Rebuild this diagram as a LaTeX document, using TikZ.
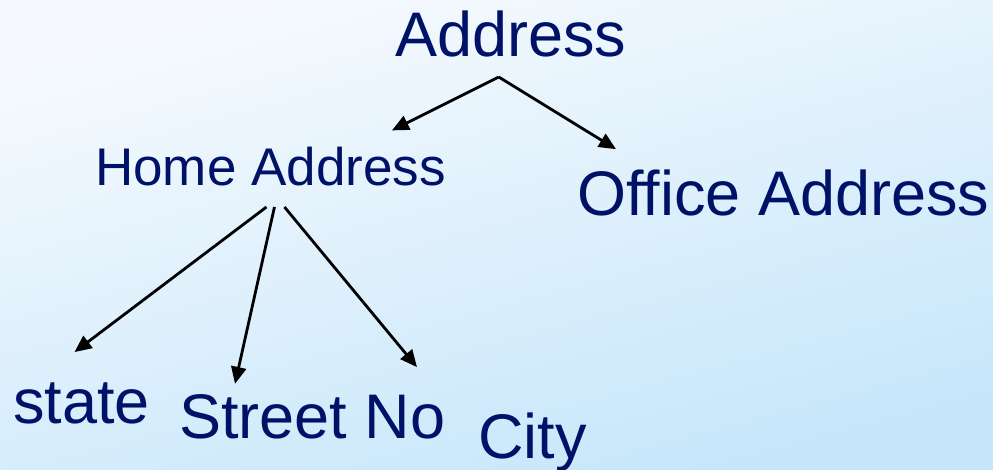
\documentclass[tikz,border=0pt]{standalone}
\usepackage{fontspec}
\setmainfont{Liberation Sans}
\usepackage{tikz}
\usetikzlibrary{arrows.meta}
\usepackage{xcolor}
\definecolor{navy}{RGB}{0,18,104}
\definecolor{bgtop}{RGB}{246,250,254}
\definecolor{bgbot}{RGB}{198,230,250}

\begin{document}
\begin{tikzpicture}[x=1pt, y=-1pt,
    every node/.style={inner sep=0pt, anchor=base west, text=navy},
    big/.style={font=\fontsize{63}{70}\selectfont},
    mid/.style={font=\fontsize{53}{60}\selectfont},
    link/.style={-{Triangle[length=17pt,width=15pt]}, line width=2.8pt, black}]
            % Background
            \shade[top color=bgtop, bottom color=bgbot, shading angle=15] (0,0) rectangle (993,469);
            \useasboundingbox (0,0) rectangle (993,469);

            % Root
            \node[big] (addr) at (395,56) {Address};

            % Second level
            \node[mid] (home) at (95,185) {Home Address};
            \node[big] (office) at (577,215) {Office Address};

            % Leaves
            \node[big] (state) at (13,423) {state};
            \node[big] (street) at (179,438) {Street No};
            \node[big] (city) at (478,458) {City};

            % Arrows
            \draw[link] ([xshift=-12pt,yshift=-21pt]addr.base) -- ([xshift=-54pt,yshift=16pt]home.north east);
            \draw[link] ([xshift=-12pt,yshift=-21pt]addr.base) -- ([xshift=39pt,yshift=20pt]office.north west);
            \draw[link] ([xshift=-4pt,yshift=-22pt]home.base) -- ([xshift=-7pt,yshift=30pt]state.north);
            \draw[link] ([xshift=4pt,yshift=-22pt]home.base) -- ([xshift=56pt,yshift=10pt]street.north west);
            \draw[link] ([xshift=14pt,yshift=-22pt]home.base) -- ([xshift=-61pt,yshift=45pt]city.north west);
\end{tikzpicture}
\end{document}
